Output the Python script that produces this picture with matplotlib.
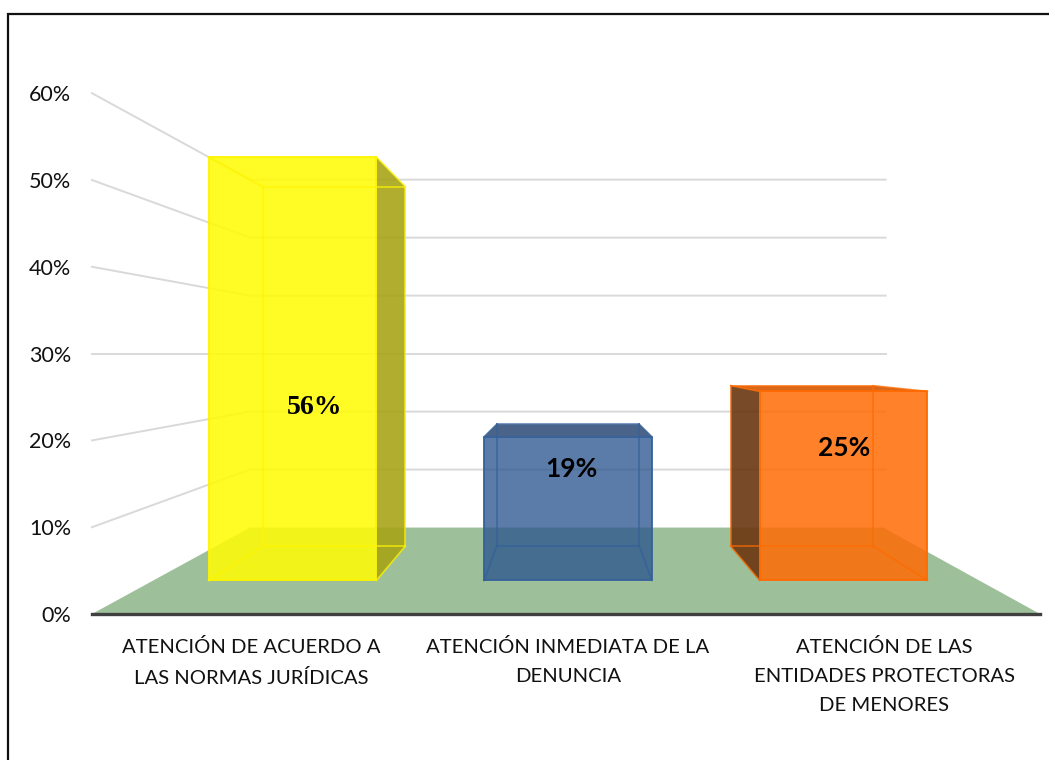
import matplotlib
matplotlib.use("Agg")
import matplotlib.pyplot as plt
from matplotlib.lines import Line2D

# values
categories = ["ATENCIÓN DE ACUERDO A\nLAS NORMAS JURÍDICAS",
              "ATENCIÓN INMEDIATA DE LA\nDENUNCIA",
              "ATENCIÓN DE LAS\nENTIDADES PROTECTORAS\nDE MENORES"]
values = [56, 19, 25]
value_labels = ["56%", "19%", "25%"]
y_ticks = [0, 10, 20, 30, 40, 50, 60]
y_tick_labels = ["0%", "10%", "20%", "30%", "40%", "50%", "60%"]

# fake 3D set up, 1 unit = 8.68 px on the front plane
W, H = 1049, 760
UNIT = 8.68
CENTER_PX, ZERO_PX = 568, 614
HORIZON = 30
K_BACK, K_BAR_FRONT, K_BAR_BACK = 0.668, 0.871, 0.74
FLOOR_L, FLOOR_R = -54.84, 54.38
CAT_STEP = 36.44
BAR_HALF = 11.1

face_cols = ["#FFFB06", "#2A548E", "#FF6C04"]
side_cols = ["#A8A418", "#2A548E", "#6E3A14"]
top_cols = ["#FFFB06", "#3F5C82", "#D8600F"]
top_alpha = [0.0, 0.95, 0.95]
edge_cols = ["#FFF500", "#35609A", "#FF6A00"]
face_alpha = [0.88, 0.77, 0.85]

label_x = [-29.2, 0.4, 31.8]
label_y = [23.8, 16.7, 19.1]
label_fonts = ["Liberation Serif", "Lato", "Lato"]
label_sizes = [20, 19, 19]


def project(x, y, k):
    return x * k, HORIZON + (y - HORIZON) * k


def quad(pts):
    return [p[0] for p in pts], [p[1] for p in pts]


fig = plt.figure(figsize=(W / 100, H / 100), dpi=100)
ax = fig.add_axes([0, 0, 1, 1])
ax.patch.set_visible(False)
ax.set_xlim((0 - CENTER_PX) / UNIT, (W - CENTER_PX) / UNIT)
ax.set_ylim((ZERO_PX - H) / UNIT, ZERO_PX / UNIT)

# floor
floor = [project(FLOOR_L, 0, 1), project(FLOOR_R, 0, 1),
         project(FLOOR_R, 0, K_BACK), project(FLOOR_L, 0, K_BACK)]
xs, ys = quad(floor)
ax.fill(xs, ys, color="#9DC09A", lw=0, zorder=1)

# gridlines on side wall and back wall
for v in y_ticks[1:]:
    a = project(FLOOR_L, v, 1)
    b = project(FLOOR_L, v, K_BACK)
    c = project(FLOOR_R + 0.4, v, K_BACK)
    ax.plot([a[0], b[0], c[0]], [a[1], b[1], c[1]], color="#D9D9D9", lw=1.4,
            zorder=1.5, solid_joinstyle="miter")

# bars
for i, val in enumerate(values):
    xc = (i - 1) * CAT_STEP
    x0, x1 = xc - BAR_HALF, xc + BAR_HALF
    f00 = project(x0, 0, K_BAR_FRONT)
    f10 = project(x1, 0, K_BAR_FRONT)
    f11 = project(x1, val, K_BAR_FRONT)
    f01 = project(x0, val, K_BAR_FRONT)
    b00 = project(x0, 0, K_BAR_BACK)
    b10 = project(x1, 0, K_BAR_BACK)
    b11 = project(x1, val, K_BAR_BACK)
    b01 = project(x0, val, K_BAR_BACK)
    ec = edge_cols[i]

    if x1 < 0:
        xs, ys = quad([f10, b10, b11, f11])
        ax.fill(xs, ys, color=side_cols[i], alpha=0.9, lw=0, zorder=2)
    elif x0 > 0:
        xs, ys = quad([f00, b00, b01, f01])
        ax.fill(xs, ys, color=side_cols[i], alpha=0.92, lw=0, zorder=2)

    xs, ys = quad([f01, f11, b11, b01])
    ax.fill(xs, ys, color=top_cols[i], alpha=top_alpha[i], lw=0, zorder=2.1)

    xs, ys = quad([f00, f10, f11, f01])
    ax.fill(xs, ys, color=face_cols[i], alpha=face_alpha[i], lw=0, zorder=3)

    # box edges
    for p, q in [(b00, b10), (b10, b11), (b11, b01), (b01, b00),
                 (f00, b00), (f10, b10), (f11, b11), (f01, b01)]:
        ax.plot([p[0], q[0]], [p[1], q[1]], color=ec, lw=1.2, alpha=0.75, zorder=3.1)
    xs, ys = quad([f00, f10, f11, f01, f00])
    ax.plot(xs, ys, color=ec, lw=1.3, zorder=3.2)

    ax.text(label_x[i], label_y[i], value_labels[i], ha="center", va="center",
            fontfamily=label_fonts[i], fontweight="bold", fontsize=label_sizes[i],
            color="black", zorder=5)

# axes
for s in ["top", "right", "left"]:
    ax.spines[s].set_visible(False)
ax.spines["bottom"].set_position(("data", 0))
ax.spines["bottom"].set_bounds(FLOOR_L, FLOOR_R)
ax.spines["bottom"].set_color("#404040")
ax.spines["bottom"].set_linewidth(2.4)
ax.spines["bottom"].set_zorder(4)
ax.spines["left"].set_position(("data", FLOOR_L))

ax.set_yticks(y_ticks)
ax.set_yticklabels(y_tick_labels, fontfamily="Lato", fontsize=15.5, color="#111111")
ax.set_xticks([-CAT_STEP, 0, CAT_STEP])
ax.set_xticklabels(categories, fontfamily="Lato", fontsize=14.6, color="#111111",
                   linespacing=1.86)
ax.tick_params(axis="y", length=0, pad=15)
ax.tick_params(axis="x", length=0, pad=17)

# outer frame of the picture, open at right and bottom
fig.add_artist(Line2D([8 / W, 8 / W, 1], [0, 1 - 13.5 / H, 1 - 13.5 / H],
                      color="#111111", lw=1.6, solid_joinstyle="miter"))

fig.savefig("out.png", dpi=100)
